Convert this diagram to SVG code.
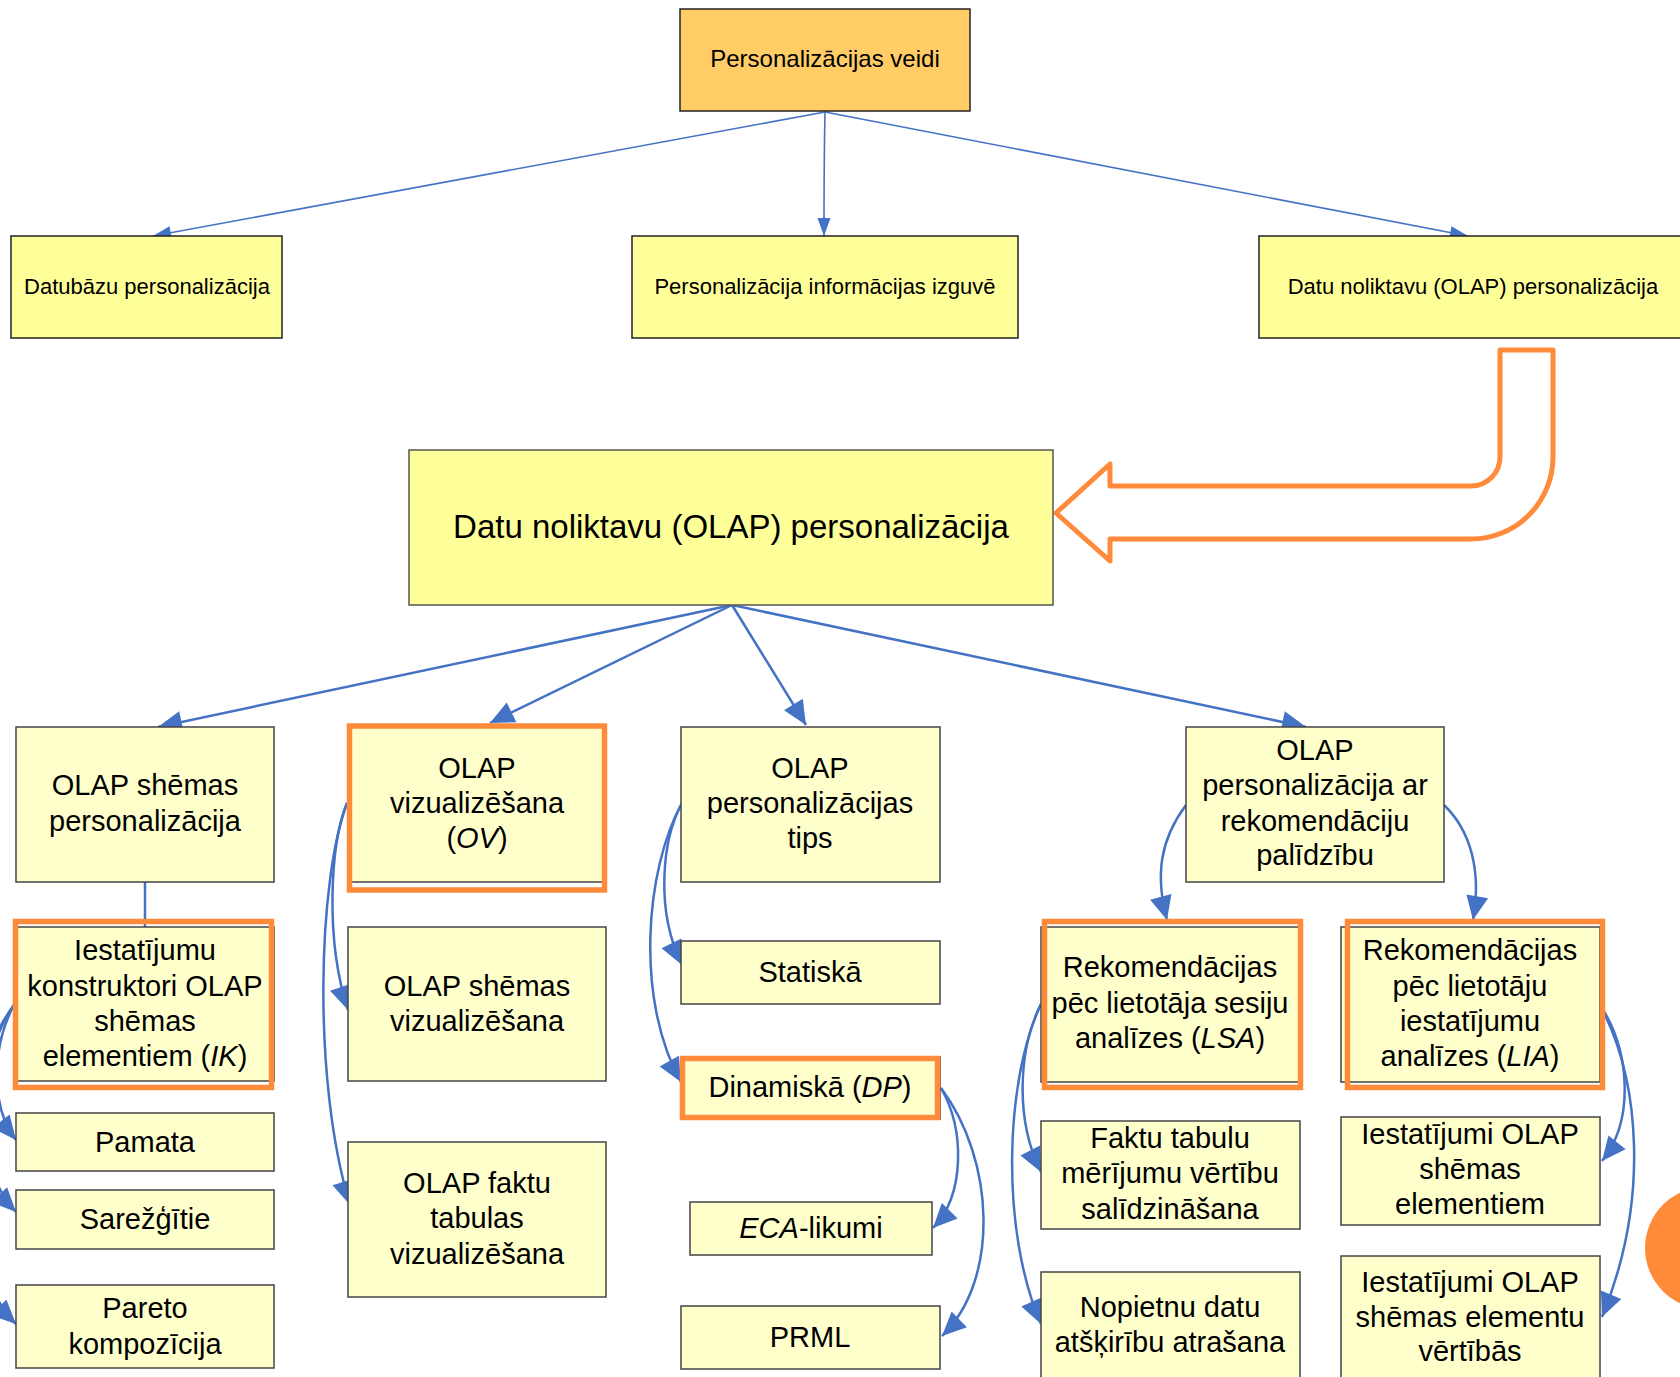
<svg xmlns="http://www.w3.org/2000/svg" width="1680" height="1377" viewBox="0 0 1680 1377">
  <defs>
    <style>
      .lbl { font-family: "Liberation Sans", Arial, sans-serif; fill: #000; text-anchor: middle; }
      .t29 { font-size: 29px; }
      .t22 { font-size: 22px; }
      .t24 { font-size: 24px; }
      .t33 { font-size: 33px; }
      .it { font-style: italic; }
      .top { fill: #FFCC66; stroke: #222; stroke-width: 1.5; }
      .main { fill: #FFFF99; stroke: #222; stroke-width: 1.5; }
      .big { fill: #FFFF99; stroke: #555; stroke-width: 1.5; }
      .sub { fill: #FFFFCC; stroke: #444; stroke-width: 1.5; }
      .hl { fill: none; stroke: #FF8A3A; stroke-width: 5.5; }
      .wire { fill: none; stroke: #4472C4; stroke-width: 2.5; }
      .wire-thin { fill: none; stroke: #4472C4; stroke-width: 1.6; }
    </style>
    <marker id="ah" markerUnits="userSpaceOnUse" markerWidth="26" markerHeight="24" refX="24" refY="11" orient="auto" overflow="visible">
      <path d="M0,0 L24,11 L0,22 z" fill="#4472C4"/>
    </marker>
    <marker id="ahs" markerUnits="userSpaceOnUse" markerWidth="20" markerHeight="14" refX="18" refY="6.5" orient="auto" overflow="visible">
      <path d="M0,0 L18,6.5 L0,13 z" fill="#4472C4"/>
    </marker>
  </defs>

  <rect width="1680" height="1377" fill="#FFFFFF"/>

  <!-- connectors -->
  <g id="connectors">
    <path class="wire-thin" marker-end="url(#ahs)" d="M825,112 L153,236"/>
    <path class="wire-thin" marker-end="url(#ahs)" d="M825,112 C824,160 824,200 824,236"/>
    <path class="wire-thin" marker-end="url(#ahs)" d="M825,112 L1468,236"/>

    <path class="wire" marker-end="url(#ah)" d="M732,605 L158,727"/>
    <path class="wire" marker-end="url(#ah)" d="M732,605 L490,723"/>
    <path class="wire" marker-end="url(#ah)" d="M732,605 L806,725"/>
    <path class="wire" marker-end="url(#ah)" d="M732,605 L1306,727"/>

    <path class="wire" d="M145,882 L145,927"/>

    <path class="wire" marker-end="url(#ah)" d="M14,1005 C-10,1050 -8,1110 16,1140"/>
    <path class="wire" marker-end="url(#ah)" d="M14,1005 C-30,1070 -25,1170 16,1212"/>
    <path class="wire" marker-end="url(#ah)" d="M14,1005 C-50,1090 -40,1270 16,1324"/>

    <path class="wire" marker-end="url(#ah)" d="M347,803 C330,845 325,940 348,1010"/>
    <path class="wire" marker-end="url(#ah)" d="M347,803 C318,880 312,1080 350,1205"/>

    <path class="wire" marker-end="url(#ah)" d="M682,803 C662,840 655,910 682,965"/>
    <path class="wire" marker-end="url(#ah)" d="M682,803 C645,870 635,1000 681,1082"/>

    <path class="wire" marker-end="url(#ah)" d="M941,1088 C965,1130 965,1195 933,1228"/>
    <path class="wire" marker-end="url(#ah)" d="M941,1088 C995,1160 1000,1280 942,1336"/>

    <path class="wire" marker-end="url(#ah)" d="M1041,1004 C1018,1050 1015,1120 1041,1172"/>
    <path class="wire" marker-end="url(#ah)" d="M1041,1004 C1005,1080 1000,1230 1041,1324"/>

    <path class="wire" marker-end="url(#ah)" d="M1186,805 C1160,840 1155,875 1167,920"/>
    <path class="wire" marker-end="url(#ah)" d="M1444,805 C1470,830 1482,870 1473,920"/>

    <path class="wire" marker-end="url(#ah)" d="M1600,1005 C1630,1050 1635,1120 1602,1161"/>
    <path class="wire" marker-end="url(#ah)" d="M1600,1005 C1640,1080 1650,1200 1602,1317"/>
  </g>

  <!-- bent block arrow pointing into the OLAP box -->
  <path id="bent-arrow" d="M1056,513 L1110,464 L1110,486 L1471,486 A29,29 0 0 0 1500,457 L1500,350 L1553,350 L1553,457 A82,82 0 0 1 1471,539 L1110,539 L1110,561 Z" fill="none" stroke="#FF8A3A" stroke-width="5" stroke-linejoin="round"/>

  <circle id="corner-dot" cx="1706" cy="1248" r="61" fill="#FF8A3A"/>

  <!-- nodes -->
  <g id="n-root">
    <rect class="top" x="680" y="9" width="290" height="102"/>
    <text class="lbl t24" x="825" y="67">Personalizācijas veidi</text>
  </g>
  <g id="n-db">
    <rect class="main" x="11" y="236" width="271" height="102"/>
    <text class="lbl t22" x="147" y="294">Datubāzu personalizācija</text>
  </g>
  <g id="n-ir">
    <rect class="main" x="632" y="236" width="386" height="102"/>
    <text class="lbl t22" x="825" y="294">Personalizācija informācijas izguvē</text>
  </g>
  <g id="n-dw">
    <rect class="main" x="1259" y="236" width="430" height="102"/>
    <text class="lbl t22" x="1473" y="294">Datu noliktavu (OLAP) personalizācija</text>
  </g>

  <g id="n-olap">
    <rect class="big" x="409" y="450" width="644" height="155"/>
    <text class="lbl t33" x="731" y="538">Datu noliktavu (OLAP) personalizācija</text>
  </g>

  <g id="n-schema">
    <rect class="sub" x="16" y="727" width="258" height="155"/>
    <text class="lbl t29" x="145" y="795">OLAP shēmas</text>
    <text class="lbl t29" x="145" y="831">personalizācija</text>
  </g>
  <g id="n-ov">
    <rect class="sub" x="348" y="727" width="258" height="155"/>
    <rect class="hl" x="349.5" y="726" width="255" height="164"/>
    <text class="lbl t29" x="477" y="778">OLAP</text>
    <text class="lbl t29" x="477" y="813">vizualizēšana</text>
    <text class="lbl t29" x="477" y="848">(<tspan class="it">OV</tspan>)</text>
  </g>
  <g id="n-type">
    <rect class="sub" x="681" y="727" width="259" height="155"/>
    <text class="lbl t29" x="810" y="778">OLAP</text>
    <text class="lbl t29" x="810" y="813">personalizācijas</text>
    <text class="lbl t29" x="810" y="848">tips</text>
  </g>
  <g id="n-rec">
    <rect class="sub" x="1186" y="727" width="258" height="155"/>
    <text class="lbl t29" x="1315" y="760">OLAP</text>
    <text class="lbl t29" x="1315" y="795">personalizācija ar</text>
    <text class="lbl t29" x="1315" y="831">rekomendāciju</text>
    <text class="lbl t29" x="1315" y="865">palīdzību</text>
  </g>

  <g id="n-ik">
    <rect class="sub" x="16" y="927" width="258" height="154"/>
    <rect class="hl" x="15.5" y="921.5" width="256" height="166"/>
    <text class="lbl t29" x="145" y="960">Iestatījumu</text>
    <text class="lbl t29" x="145" y="996">konstruktori OLAP</text>
    <text class="lbl t29" x="145" y="1031">shēmas</text>
    <text class="lbl t29" x="145" y="1066">elementiem (<tspan class="it">IK</tspan>)</text>
  </g>
  <g id="n-schema-viz">
    <rect class="sub" x="348" y="927" width="258" height="154"/>
    <text class="lbl t29" x="477" y="996">OLAP shēmas</text>
    <text class="lbl t29" x="477" y="1031">vizualizēšana</text>
  </g>
  <g id="n-static">
    <rect class="sub" x="681" y="941" width="259" height="63"/>
    <text class="lbl t29" x="810" y="982">Statiskā</text>
  </g>
  <g id="n-lsa">
    <rect class="sub" x="1041" y="927" width="259" height="155"/>
    <rect class="hl" x="1044.5" y="921.5" width="256" height="166"/>
    <text class="lbl t29" x="1170" y="977">Rekomendācijas</text>
    <text class="lbl t29" x="1170" y="1013">pēc lietotāja sesiju</text>
    <text class="lbl t29" x="1170" y="1048">analīzes (<tspan class="it">LSA</tspan>)</text>
  </g>
  <g id="n-lia">
    <rect class="sub" x="1341" y="927" width="259" height="155"/>
    <rect class="hl" x="1347.5" y="921.5" width="255" height="166"/>
    <text class="lbl t29" x="1470" y="960">Rekomendācijas</text>
    <text class="lbl t29" x="1470" y="996">pēc lietotāju</text>
    <text class="lbl t29" x="1470" y="1031">iestatījumu</text>
    <text class="lbl t29" x="1470" y="1066">analīzes (<tspan class="it">LIA</tspan>)</text>
  </g>

  <g id="n-basic">
    <rect class="sub" x="16" y="1113" width="258" height="58"/>
    <text class="lbl t29" x="145" y="1152">Pamata</text>
  </g>
  <g id="n-complex">
    <rect class="sub" x="16" y="1190" width="258" height="59"/>
    <text class="lbl t29" x="145" y="1229">Sarežģītie</text>
  </g>
  <g id="n-pareto">
    <rect class="sub" x="16" y="1285" width="258" height="83"/>
    <text class="lbl t29" x="145" y="1318">Pareto</text>
    <text class="lbl t29" x="145" y="1354">kompozīcija</text>
  </g>
  <g id="n-fact-viz">
    <rect class="sub" x="348" y="1142" width="258" height="155"/>
    <text class="lbl t29" x="477" y="1193">OLAP faktu</text>
    <text class="lbl t29" x="477" y="1228">tabulas</text>
    <text class="lbl t29" x="477" y="1264">vizualizēšana</text>
  </g>
  <g id="n-dp">
    <rect class="sub" x="681" y="1057" width="259" height="62"/>
    <rect class="hl" x="682.5" y="1058.5" width="255" height="59"/>
    <text class="lbl t29" x="810" y="1097">Dinamiskā (<tspan class="it">DP</tspan>)</text>
  </g>
  <g id="n-eca">
    <rect class="sub" x="690" y="1202" width="242" height="53"/>
    <text class="lbl t29" x="811" y="1238"><tspan class="it">ECA</tspan>-likumi</text>
  </g>
  <g id="n-prml">
    <rect class="sub" x="681" y="1306" width="259" height="63"/>
    <text class="lbl t29" x="810" y="1347">PRML</text>
  </g>
  <g id="n-fact-cmp">
    <rect class="sub" x="1041" y="1121" width="259" height="108"/>
    <text class="lbl t29" x="1170" y="1148">Faktu tabulu</text>
    <text class="lbl t29" x="1170" y="1183">mērījumu vērtību</text>
    <text class="lbl t29" x="1170" y="1219">salīdzināšana</text>
  </g>
  <g id="n-diff">
    <rect class="sub" x="1041" y="1272" width="259" height="110"/>
    <text class="lbl t29" x="1170" y="1317">Nopietnu datu</text>
    <text class="lbl t29" x="1170" y="1352">atšķirību atrašana</text>
  </g>
  <g id="n-set-elem">
    <rect class="sub" x="1341" y="1117" width="259" height="108"/>
    <text class="lbl t29" x="1470" y="1144">Iestatījumi OLAP</text>
    <text class="lbl t29" x="1470" y="1179">shēmas</text>
    <text class="lbl t29" x="1470" y="1214">elementiem</text>
  </g>
  <g id="n-set-val">
    <rect class="sub" x="1341" y="1256" width="259" height="126"/>
    <text class="lbl t29" x="1470" y="1292">Iestatījumi OLAP</text>
    <text class="lbl t29" x="1470" y="1327">shēmas elementu</text>
    <text class="lbl t29" x="1470" y="1361">vērtībās</text>
  </g>
</svg>
